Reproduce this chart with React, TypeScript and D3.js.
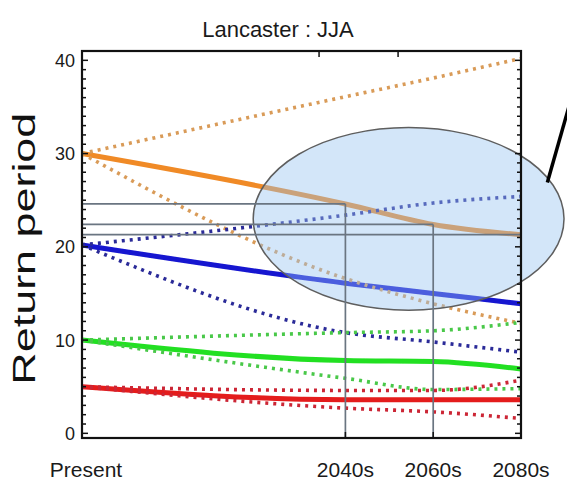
import React, { useEffect } from "react";
import * as d3 from "d3";

// time slices on the x axis
const periods = ["Present", "2040s", "2060s", "2080s"];
const periodYears = [1980, 2040, 2060, 2080];
const yTicks = [0, 10, 20, 30, 40];
const topTickYears = [2034, 2052];

// return period values (median, upper and lower bounds)
const orangeMid = [30, 24.6, 22.4, 21.3];
const orangeHigh = [30, 36.1, 38.1, 40.2];
const orangeLow = [30, 16.6, 13.9, 11.8];
const blueMid = [20.2, 16.1, 15.0, 13.9];
const blueHigh = [20.2, 23.4, 24.7, 25.4];
const blueLow = [20.2, 10.8, 9.8, 8.7];
const greenMid = [10, 7.8, 7.7, 6.9];
const greenHigh = [10, 10.8, 11.0, 11.9];
const greenLow = [10, 5.9, 4.7, 4.8];
const redMid = [5, 3.6, 3.6, 3.6];
const redHigh = [5, 4.6, 4.6, 5.7];
const redLow = [5, 2.7, 2.3, 1.6];

// callout ellipse and pointer, in data units
const highlight = { cx: 2054.4, cy: 23, rx: 35.4, ry: 9.8 };
const pointer = [
  [2086, 26.9],
  [2093, 38.5]
];

const series = [
  { mid: orangeMid, high: orangeHigh, low: orangeLow, solid: "#f08a26", dotted: "#d99b58" },
  { mid: blueMid, high: blueHigh, low: blueLow, solid: "#1414d0", dotted: "#2a2a98" },
  { mid: greenMid, high: greenHigh, low: greenLow, solid: "#22e022", dotted: "#48c848" },
  { mid: redMid, high: redHigh, low: redLow, solid: "#e41a1a", dotted: "#cc2636" }
];

const font = "'Liberation Sans', Arial, Helvetica, sans-serif";

export default function App() {
  useEffect(() => {
    document.body.style.margin = "0";
  }, []);

  const width = 567,
    height = 482;
  const left = 82,
    right = 521,
    top = 51,
    bottom = 438;

  const x = d3.scaleLinear().domain([1980, 2080]).range([left, right]);
  const y = d3.scaleLinear().domain([-0.5, 41]).range([bottom, top]);

  const line = d3
    .line<number>()
    .x((_, i) => x(periodYears[i]))
    .y(d => y(d))
    .curve(d3.curveMonotoneX);

  const minor = d3.range(0, 41);

  const ex = x(highlight.cx),
    ey = y(highlight.cy),
    erx = x(highlight.cx + highlight.rx) - ex,
    ery = ey - y(highlight.cy + highlight.ry);

  return (
    <svg width={width} height={height} style={{ display: "block", background: "#fff" }}>
      <defs>
        <filter id="soft" x="-5%" y="-5%" width="110%" height="110%">
          <feGaussianBlur stdDeviation="0.6" />
        </filter>
      </defs>

      <text x={278} y={37} textAnchor="middle" fontFamily={font} fontSize={22} fill="#1a1a1a">
        Lancaster : JJA
      </text>

      <g filter="url(#soft)">
        {series.map((s, i) => (
          <path key={"m" + i} d={line(s.mid) || ""} fill="none" stroke={s.solid} strokeWidth={5} />
        ))}
        {series.map((s, i) => (
          <g key={"d" + i}>
            <path d={line(s.high) || ""} fill="none" stroke={s.dotted} strokeWidth={3.6} strokeDasharray="3 5" />
            <path d={line(s.low) || ""} fill="none" stroke={s.dotted} strokeWidth={3.6} strokeDasharray="3 5" />
          </g>
        ))}
      </g>

      <ellipse cx={ex} cy={ey} rx={erx} ry={ery} fill="rgb(150,195,240)" fillOpacity={0.42} stroke="#5e5e5e" strokeWidth={1.5} />

      {periodYears.slice(1).map((yr, i) => {
        const v = orangeMid[i + 1];
        return (
          <g key={yr} stroke="#6a7581" strokeWidth={1.7}>
            <line x1={left} x2={x(yr)} y1={y(v)} y2={y(v)} />
            {yr < 2080 && <line x1={x(yr)} x2={x(yr)} y1={y(v)} y2={bottom} />}
          </g>
        );
      })}

      <line
        x1={x(pointer[0][0])}
        y1={y(pointer[0][1])}
        x2={x(pointer[1][0])}
        y2={y(pointer[1][1])}
        stroke="#000"
        strokeWidth={3.5}
      />

      <g stroke="#111" strokeWidth={1.5}>
        {minor.map(v => (
          <g key={v}>
            <line x1={left} x2={left + (v % 10 === 0 ? 6 : 4)} y1={y(v)} y2={y(v)} />
            <line x1={right} x2={right - (v % 10 === 0 ? 6 : 4)} y1={y(v)} y2={y(v)} />
          </g>
        ))}
        {topTickYears.map(yr => (
          <line key={yr} x1={x(yr)} x2={x(yr)} y1={top} y2={top + 6} />
        ))}
        {periodYears.slice(1, 3).map(yr => (
          <line key={yr} x1={x(yr)} x2={x(yr)} y1={bottom} y2={bottom - 6} />
        ))}
      </g>
      <rect x={left} y={top} width={right - left} height={bottom - top} fill="none" stroke="#111" strokeWidth={2.2} />

      {yTicks.map(v => (
        <text key={v} x={75} y={y(v)} dy="0.36em" textAnchor="end" fontFamily={font} fontSize={18} fill="#1a1a1a">
          {v}
        </text>
      ))}

      {periods.map((p, i) => (
        <text
          key={p}
          x={i === 0 ? x(periodYears[i]) + 4 : x(periodYears[i])}
          y={477}
          textAnchor="middle"
          fontFamily={font}
          fontSize={21}
          fill="#1a1a1a"
        >
          {p}
        </text>
      ))}

      <text
        transform={`translate(35, ${y(19.8)}) rotate(-90)`}
        textAnchor="middle"
        fontFamily={font}
        fontSize={32}
        textLength={272}
        lengthAdjust="spacingAndGlyphs"
        fill="#111"
      >
        Return period
      </text>
    </svg>
  );
}
